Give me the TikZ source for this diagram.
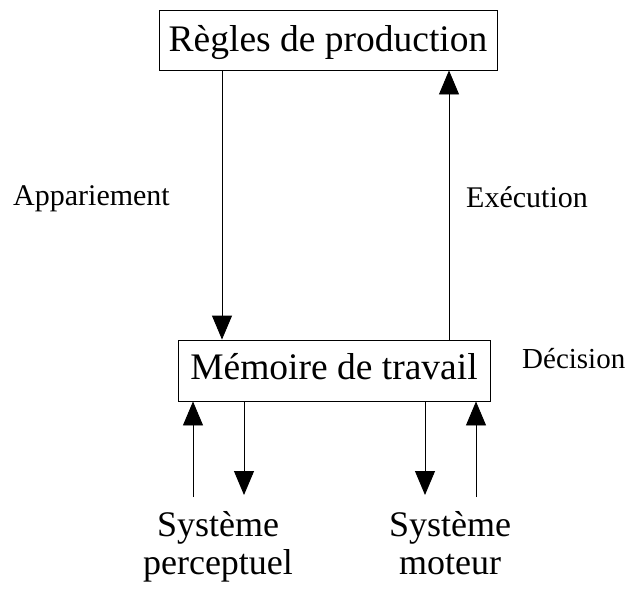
\documentclass[tikz,border=0pt]{standalone}
\usepackage{fontspec}
\setmainfont{Liberation Serif}
\usetikzlibrary{arrows.meta}
\begin{document}
\begin{tikzpicture}[x=1pt,y=-1pt,
  box/.style={draw, line width=0.9pt, inner sep=0pt, text depth=8pt,
    font=\fontsize{37.5}{40}\selectfont},
  lbl/.style={anchor=base west, inner sep=0pt, font=\fontsize{30}{32}\selectfont},
  sys/.style={align=center, inner sep=0pt, font=\fontsize{36}{38.5}\selectfont},
  arr/.style={line width=0.9pt, -{Triangle[length=24pt,width=20pt]}}]
\useasboundingbox (0,0) rectangle (629,589);

% main boxes
\node[box, minimum width=338pt, minimum height=60pt, text height=30pt]
  (rules) at (328,40) {Règles de production};
\node[box, minimum width=312pt, minimum height=61pt, text height=25pt]
  (wm) at (334,370.5) {Mémoire de travail};

% side labels
\node[lbl] (appar) at (13,205) {Appariement};
\node[lbl] (exec) at (466,207) {Exécution};
\node[lbl, font=\fontsize{29}{32}\selectfont] (decis) at (522,368) {Décision};

% peripheral systems
\node[sys, anchor=north] (percep) at (218,511) {Système\\perceptuel};
\node[sys, anchor=north] (motor) at (450,511) {Système\\moteur};

% attachment points of the vertical connectors
\coordinate (a1) at (222,0);
\coordinate (a2) at (449,0);
\coordinate (pin) at (193,497);
\coordinate (pout) at (244,495);
\coordinate (mout) at (425,495);
\coordinate (min) at (476,497);

% matching and execution
\draw[arr] (rules.south -| a1) -- (wm.north -| a1);
\draw[arr] (wm.north -| a2) -- (rules.south -| a2);

% perception and action
\draw[arr] (pin) -- (wm.south -| pin);
\draw[arr] (wm.south -| pout) -- (pout);
\draw[arr] (wm.south -| mout) -- (mout);
\draw[arr] (min) -- (wm.south -| min);
\end{tikzpicture}
\end{document}
